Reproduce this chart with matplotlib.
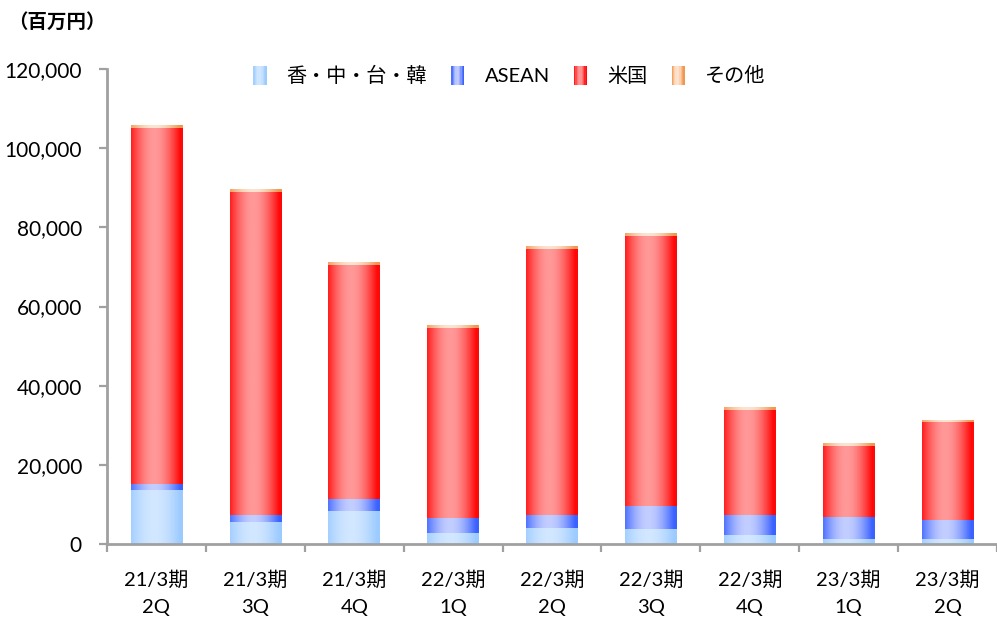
import numpy as np
import matplotlib
matplotlib.use("Agg")
import matplotlib.pyplot as plt
from matplotlib.colors import LinearSegmentedColormap
from matplotlib.patches import Rectangle
from matplotlib.legend_handler import HandlerBase

plt.rcParams['font.family'] = ['Lato', 'Noto Sans CJK JP', 'DejaVu Sans']

# data (百万円)
periods = ['21/3期\n2Q', '21/3期\n3Q', '21/3期\n4Q', '22/3期\n1Q', '22/3期\n2Q',
           '22/3期\n3Q', '22/3期\n4Q', '23/3期\n1Q', '23/3期\n2Q']
series_names = ['香・中・台・韓', 'ASEAN', '米国', 'その他']
hk_cn_tw_kr = [13600, 5600, 8300, 2800, 4000, 3800, 2300, 1300, 1300]
asean = [1600, 1700, 3000, 3800, 3300, 5800, 5000, 5500, 4800]
usa = [90000, 81700, 59200, 48000, 67200, 68200, 26600, 18000, 24700]
other = [600, 700, 700, 700, 600, 600, 700, 700, 500]

# edge colour / centre colour of the horizontal gradient
grad_colors = [('#9ccbff', '#d2e7ff'),
               ('#3a62ff', '#c2cdff'),
               ('#ff0808', '#ff9898'),
               ('#f29650', '#fde4d0')]


def make_cmap(edge, centre):
    return LinearSegmentedColormap.from_list('g', [edge, centre])


def profile(n=64):
    t = np.linspace(0, 1, n)
    v = np.clip(1 - np.abs(t - 0.45) / 0.5, 0, 1)
    return np.sin(v * np.pi / 2)


class HandlerGrad(HandlerBase):
    def __init__(self, cmap):
        super().__init__()
        self.cmap = cmap

    def create_artists(self, legend, orig_handle, xdescent, ydescent,
                       width, height, fontsize, trans):
        n = 10
        p = profile(n)
        arts = []
        for i in range(n):
            r = Rectangle((-xdescent + i * width / n, -ydescent - 0.15 * height),
                          width / n * 1.05, height * 1.25,
                          facecolor=self.cmap(p[i]), edgecolor='none',
                          transform=trans)
            arts.append(r)
        return arts


fig = plt.figure(figsize=(9.97, 6.18), dpi=100)
ax = fig.add_axes([0.1073, 0.1197, 0.8927, 0.7686])

x = np.arange(len(periods))
width = 0.52
grad = profile(128)[None, :]
bottom = np.zeros(len(periods))
handles = []
handler_map = {}
for name, vals, (c_edge, c_mid) in zip(series_names,
                                       [hk_cn_tw_kr, asean, usa, other],
                                       grad_colors):
    cmap = make_cmap(c_edge, c_mid)
    bars = ax.bar(x, vals, width, bottom=bottom, color='none', edgecolor='none')
    for b in bars:
        x0, y0 = b.get_x(), b.get_y()
        ax.imshow(grad, cmap=cmap, vmin=0, vmax=1, aspect='auto',
                  extent=[x0, x0 + b.get_width(), y0, y0 + b.get_height()],
                  interpolation='bilinear', zorder=2)
    bottom = bottom + np.array(vals)
    h = Rectangle((0, 0), 1, 1)
    handles.append(h)
    handler_map[h] = HandlerGrad(cmap)

ax.set_xlim(-0.5, len(periods) - 0.5)
ax.set_ylim(0, 120000)
ax.set_yticks(np.arange(0, 120001, 20000))
ax.set_yticklabels([f'{v:,}' for v in range(0, 120001, 20000)], fontsize=15)

ax.set_xticks(np.arange(-0.5, len(periods), 1.0))
ax.set_xticklabels([])
ax.set_xticks(x, minor=True)
ax.set_xticklabels(periods, minor=True, fontsize=14.5, linespacing=1.7)
ax.tick_params(axis='x', which='minor', length=0, pad=19)
ax.tick_params(axis='both', which='major', direction='out', length=6,
               width=1.6, color='#a0a0a0')
ax.tick_params(axis='y', pad=12)

for s in ['top', 'right']:
    ax.spines[s].set_visible(False)
for s in ['left', 'bottom']:
    ax.spines[s].set_color('#a0a0a0')
    ax.spines[s].set_linewidth(2)

ax.legend(handles, series_names, handler_map=handler_map, loc='upper center',
          bbox_to_anchor=(0.452, 1.045), ncol=4, frameon=False, fontsize=14.5,
          handlelength=0.65, handleheight=0.8, handletextpad=1.0,
          columnspacing=1.2)

fig.text(0.008, 0.965, '（百万円）', fontsize=14, fontweight='bold',
         va='center', ha='left')

fig.savefig('out.png', dpi=100)
